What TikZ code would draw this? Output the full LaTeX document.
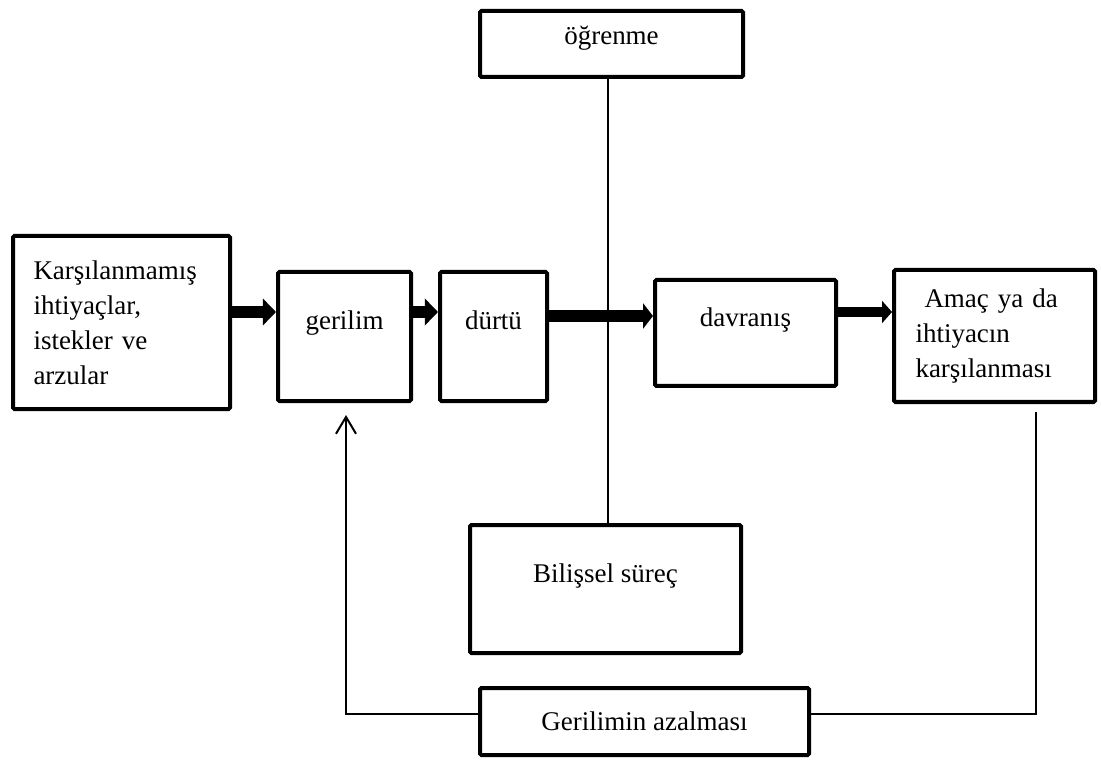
\documentclass[tikz,border=0pt]{standalone}
\usepackage{fontspec}
\setmainfont{Liberation Serif}
\usetikzlibrary{arrows.meta}

\begin{document}
\begin{tikzpicture}[
    kutu/.style={draw, line width=0.1cm, rounded corners=1pt, inner sep=0pt, font=\fontsize{19.2}{24.9}\selectfont},
    yukari/.style={text depth=0.8cm},
    kalin/.style={line width=0.28cm, -{Triangle[length=0.33cm, width=0.66cm]}},
    ince/.style={line width=0.05cm}]
    \useasboundingbox (0,0) rectangle (27.525,-19);

    % kutular
    \node[kutu, minimum width=5.425cm, minimum height=4.325cm, text width=4.4cm, align=left] (karsi) at (3.0375,-8.0625)
        {Karşılanmamış\\ ihtiyaçlar,\\ istekler ve\\ arzular};
    \node[kutu, yukari, minimum width=3.325cm, minimum height=3.225cm] (gerilim) at (8.6125,-8.4125) {gerilim};
    \node[kutu, yukari, minimum width=2.675cm, minimum height=3.225cm] (durtu) at (12.3375,-8.4125) {dürtü};
    \node[kutu, yukari, minimum width=4.525cm, minimum height=2.65cm] (davranis) at (18.6375,-8.325) {davranış};
    \node[kutu, minimum width=5.025cm, minimum height=3.3cm, text width=3.95cm, align=left] (amac) at (24.8625,-8.4)
        {\ Amaç ya da\\ ihtiyacın\\ karşılanması};
    \node[kutu, text depth=0.45cm, minimum width=6.575cm, minimum height=1.65cm] (ogrenme) at (15.2875,-1.1) {öğrenme};
    \node[kutu, yukari, minimum width=6.775cm, minimum height=3.2cm] (bilissel) at (15.1375,-14.725) {Bilişsel süreç};
    \node[kutu, minimum width=8.225cm, minimum height=1.675cm] (azalma) at (16.1125,-18.0375) {Gerilimin azalması};

    % ogrenme - bilissel surec
    \coordinate (dik) at (15.2,0);
    \draw[ince] (ogrenme.south -| dik) -- (bilissel.north -| dik);

    % kalin oklar
    \coordinate (ok) at (0,-7.8);
    \coordinate (ok2) at (0,-7.9);
    \draw[kalin] (karsi.east |- ok) -- (gerilim.west |- ok);
    \draw[kalin] (gerilim.east |- ok) -- (durtu.west |- ok);
    \draw[kalin, line width=0.32cm, -{Triangle[length=0.25cm, width=0.63cm]}] (durtu.east |- ok2) -- (davranis.west |- ok2);
    \draw[kalin, line width=0.25cm, -{Triangle[length=0.25cm, width=0.55cm]}] (davranis.east |- ok) -- (amac.west |- ok);

    % geri donus
    \coordinate (sag) at (25.9,-10.3);
    \coordinate (alt) at (0,-17.85);
    \coordinate (sol) at (8.65,-10.375);
    \draw[ince] (sag) |- (azalma.east |- alt);
    \draw[ince, -{Straight Barb[length=0.42cm, width=0.5cm]}] (azalma.west |- alt) -| (sol);
\end{tikzpicture}
\end{document}
